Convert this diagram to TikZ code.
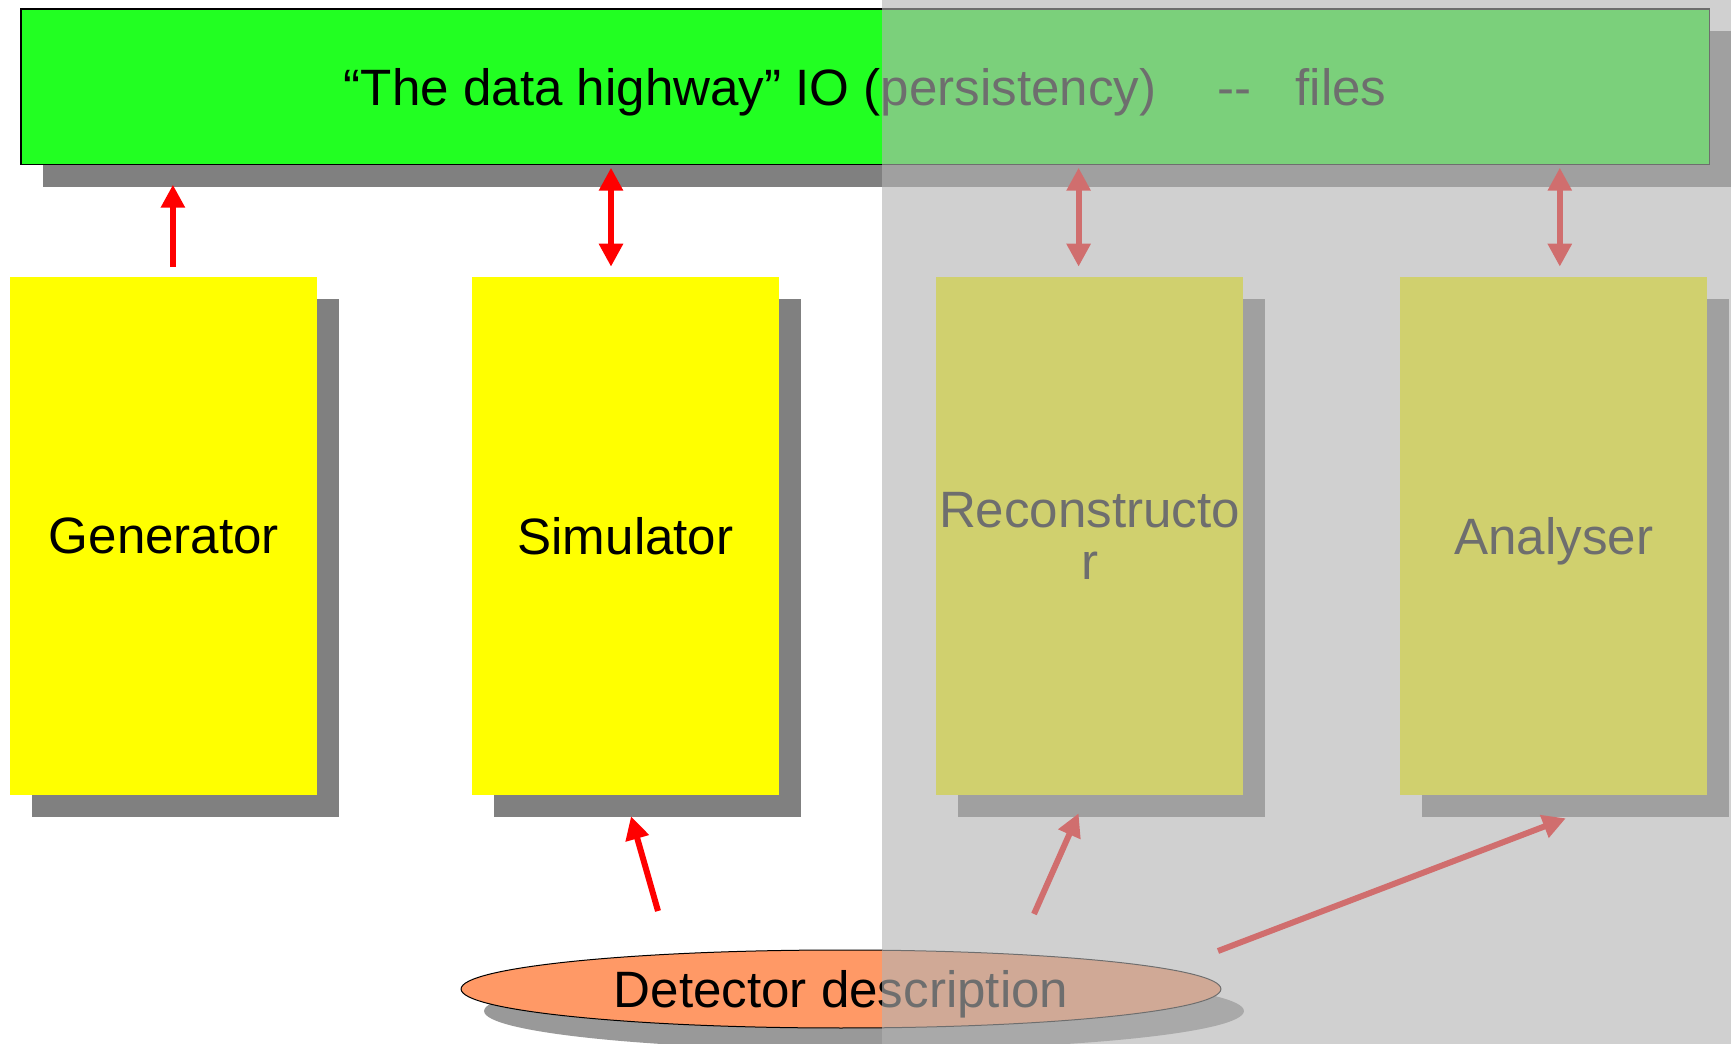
\documentclass[tikz,border=0pt]{standalone}
\usepackage{fontspec}
\setmainfont{Liberation Sans}
\usetikzlibrary{arrows.meta,calc,shadows,shapes.geometric}
\definecolor{hwygreen}{RGB}{34,255,34}
\definecolor{stageyellow}{RGB}{255,255,0}
\definecolor{detorange}{RGB}{255,153,102}
\definecolor{veilgray}{RGB}{180,180,180}
\tikzset{
	stage/.style={fill=stageyellow, inner sep=0pt, align=center, text depth=0pt,
		minimum width=6.14cm, minimum height=10.36cm,
		drop shadow={shadow xshift=0.44cm, shadow yshift=-0.44cm, fill=black!50, opacity=1}},
	flow/.style={red, line width=0.12cm, -{Triangle[length=0.46cm, width=0.46cm]}},
	twoway/.style={flow, {Triangle[length=0.46cm, width=0.46cm]}-{Triangle[length=0.46cm, width=0.46cm]}}
}

\begin{document}
\begin{tikzpicture}[x=0.02cm, y=-0.02cm, font=\fontsize{29.1}{29.2}\selectfont]
			%%%%% START %%%%%
			
			\fill[white] (0, 0) rectangle (1731, 1044);
			\useasboundingbox (0, 0) rectangle (1731, 1044);
			\clip (0, 0) rectangle (1731, 1044);
			
			\node[draw=black, line width=0.03cm, fill=hwygreen, inner sep=0pt, text depth=0pt,
				minimum width=33.78cm, minimum height=3.11cm,
				drop shadow={shadow xshift=0.44cm, shadow yshift=-0.44cm, fill=black!50, opacity=1}]
				(hwy) at (865.2, 86.8) {“The data highway” IO (persistency)\hspace{1.22cm}-{}-\hspace{0.88cm}files};
			
			\node[stage] (gen) at (163.9, 536) {Generator};
			\node[stage] (sim) at (625.5, 536) {Simulator};
			\node[stage] (rec) at (1089.6, 536) {Reconstructo\\r};
			\node[stage] (ana) at (1553.8, 536) {Analyser};
			
			\draw[flow] ($(gen.north)+(9, -10)$) -- ++(0, -82);
			\draw[twoway] ($(sim.north)+(-14.5, -10)$) -- ++(0, -99);
			\draw[twoway] ($(rec.north)+(-11, -10)$) -- ++(0, -99);
			\draw[twoway] ($(ana.north)+(6, -10)$) -- ++(0, -99);
			
			\node[ellipse, draw=black, line width=0.02cm, fill=detorange, inner sep=0pt, text depth=0pt,
				minimum width=15.2cm, minimum height=1.56cm,
				drop shadow={shadow xshift=0.46cm, shadow yshift=-0.44cm, fill=black!40, opacity=1}]
				(det) at (841, 989) {Detector description};
			
			\draw[flow] ($(det.center)+(-183, -78)$) -- ($(sim.south)+(5.5, 21)$);
			\draw[flow] ($(det.center)+(193, -75)$) -- ($(rec.south)+(-11, 18)$);
			\draw[flow] ($(det.center)+(377, -38)$) -- ($(ana.south)+(12, 23)$);
			
			% greyed-out right half
			\fill[veilgray, opacity=0.616] (882, 0) rectangle (1731, 1044);
			
			%%%%% END %%%%%
		\end{tikzpicture}
\end{document}
